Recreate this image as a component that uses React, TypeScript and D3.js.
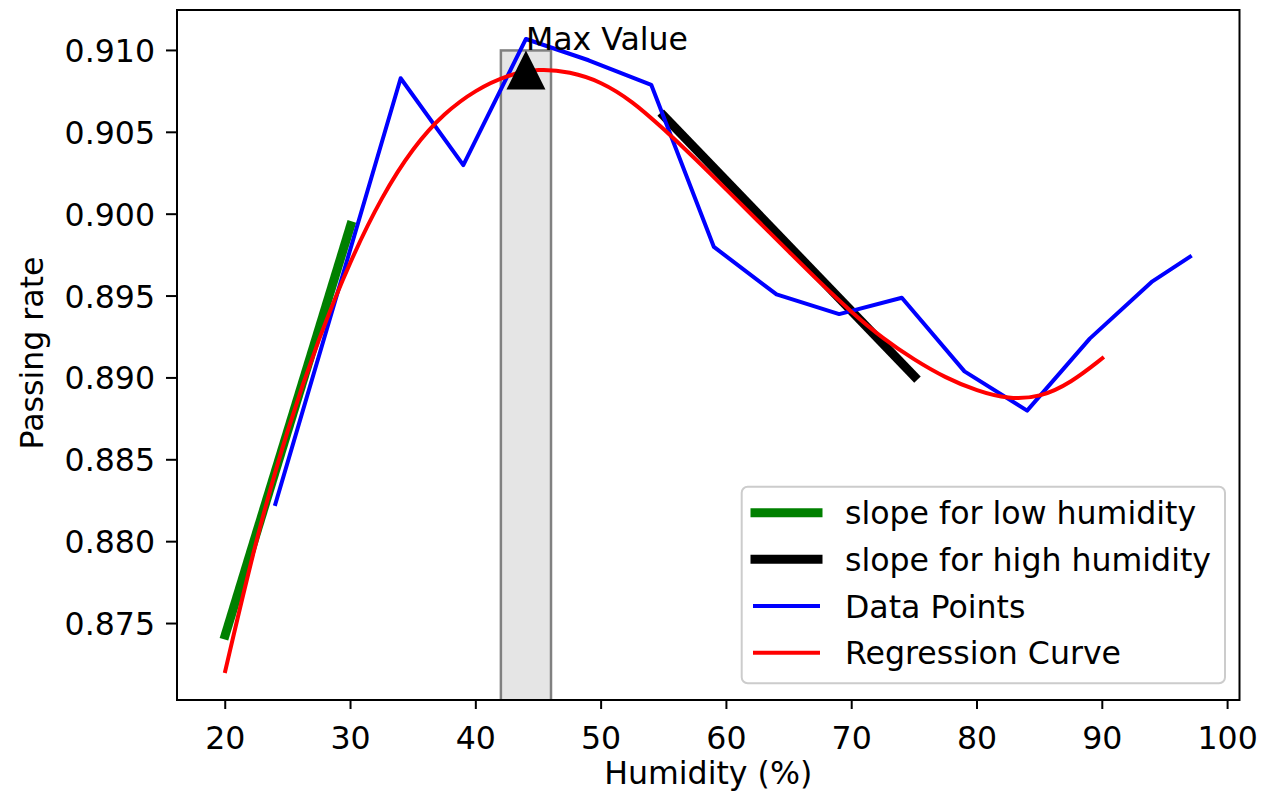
import React from "react";
import * as d3 from "d3";

// ---- data ----
const humidity = [24, 34, 39, 44, 49, 54, 59, 64, 69, 74, 79, 84, 89, 94, 97];
const passingRate = [0.8823, 0.9083, 0.903, 0.9107, 0.9094, 0.9079, 0.898, 0.8951, 0.8939, 0.8949, 0.8904, 0.888, 0.8924, 0.8959, 0.8974];

const regX = [20, 22.5, 25, 27.5, 30, 32.5, 35, 37.5, 40, 42.5, 45, 47.5, 50, 52.5, 55, 57.5, 60, 62.5, 65, 67.5, 70, 72.5, 75, 77.5, 80, 82.5, 85, 87.5, 90];
const regY = [0.8721, 0.8803, 0.887, 0.8925, 0.8972, 0.9011, 0.9041, 0.9062, 0.9076, 0.9085, 0.9089, 0.9087, 0.9081, 0.9069, 0.9052, 0.9034, 0.9015, 0.8996, 0.8977, 0.8958, 0.894, 0.8924, 0.8911, 0.89, 0.8892, 0.8887, 0.8888, 0.8897, 0.8912];

const lowX = [20, 30];
const lowY = [0.8743, 0.8993];
const highX = [55, 75];
const highY = [0.906, 0.8901];

const maxX = 44;
const maxY = 0.9088;
const barX = [42, 46];
const barTop = 0.91;

const xTicks = [20, 30, 40, 50, 60, 70, 80, 90, 100];
const yTicks = [0.875, 0.88, 0.885, 0.89, 0.895, 0.9, 0.905, 0.91];

const legendItems = [
  { label: "slope for low humidity", color: "#008000", width: 9 },
  { label: "slope for high humidity", color: "#000000", width: 9 },
  { label: "Data Points", color: "#0000ff", width: 4 },
  { label: "Regression Curve", color: "#ff0000", width: 4 },
];

const W = 1276;
const H = 797;
const L = 177, R = 1239.5, T = 10, B = 700;
const FS = 31.6;
const FONT = "DejaVu Sans";

export default function App() {
  const x = d3.scaleLinear().domain([16.15, 100.95]).range([L, R]);
  const y = d3.scaleLinear().domain([0.87033, 0.91247]).range([B, T]);

  const line = d3.line<[number, number]>().x((d) => x(d[0])).y((d) => y(d[1]));
  const smooth = d3
    .line<[number, number]>()
    .x((d) => x(d[0]))
    .y((d) => y(d[1]))
    .curve(d3.curveBasis);

  const dataPts: [number, number][] = humidity.map((h, i) => [h, passingRate[i]]);
  const regPts: [number, number][] = regX.map((h, i) => [h, regY[i]]);
  const lowPts: [number, number][] = lowX.map((h, i) => [h, lowY[i]]);
  const highPts: [number, number][] = highX.map((h, i) => [h, highY[i]]);

  const mx = x(maxX), my = y(maxY);
  const tri = 19.5;

  const legX = 741.7, legY = 486.7, legW = 483.3, legH = 196.6;
  const rowY = [512.7, 559.3, 606, 652.7];

  return (
    <svg width={W} height={H} style={{ position: "absolute", left: 0, top: 0, background: "#fff" }} fontFamily={FONT}>
      <rect x={0} y={0} width={W} height={H} fill="#fff" />
      <defs>
        <clipPath id="plotclip">
          <rect x={L} y={T} width={R - L} height={B - T} />
        </clipPath>
      </defs>
      <g clipPath="url(#plotclip)">
        <rect
          x={x(barX[0])}
          y={y(barTop)}
          width={x(barX[1]) - x(barX[0])}
          height={B + 20 - y(barTop)}
          fill="#e5e5e5"
          stroke="#808080"
          strokeWidth={2.5}
        />
        <path d={line(lowPts) || ""} fill="none" stroke="#008000" strokeWidth={9} strokeLinecap="square" />
        <path d={line(highPts) || ""} fill="none" stroke="#000" strokeWidth={9} strokeLinecap="square" />
        <path d={line(dataPts) || ""} fill="none" stroke="#0000ff" strokeWidth={4} strokeLinecap="square" strokeLinejoin="round" />
        <path d={smooth(regPts) || ""} fill="none" stroke="#ff0000" strokeWidth={4} strokeLinecap="square" strokeLinejoin="round" />
        <path d={`M${mx},${my - tri} L${mx - tri},${my + tri} L${mx + tri},${my + tri} Z`} fill="#000" />
      </g>
      <text x={x(maxX)} y={y(barTop) - 0.5} fontSize={FS} fill="#000">
        Max Value
      </text>

      {/* frame */}
      <rect x={L} y={T} width={R - L} height={B - T} fill="none" stroke="#000" strokeWidth={2} />

      {/* x ticks */}
      {xTicks.map((t) => (
        <g key={"x" + t}>
          <line x1={x(t)} x2={x(t)} y1={B} y2={B + 9} stroke="#000" strokeWidth={2} />
          <text x={x(t)} y={B + 48.5} fontSize={FS} textAnchor="middle" fill="#000">
            {t}
          </text>
        </g>
      ))}
      {/* y ticks */}
      {yTicks.map((t) => (
        <g key={"y" + t}>
          <line x1={L - 11} x2={L} y1={y(t)} y2={y(t)} stroke="#000" strokeWidth={2} />
          <text x={L - 22} y={y(t) + 11.5} fontSize={FS} textAnchor="end" fill="#000">
            {t.toFixed(3)}
          </text>
        </g>
      ))}

      <text x={(L + R) / 2} y={784} fontSize={FS} textAnchor="middle" fill="#000">
        Humidity (%)
      </text>
      <text transform={`translate(43,353) rotate(-90)`} fontSize={FS} textAnchor="middle" fill="#000">
        Passing rate
      </text>

      {/* legend */}
      <rect x={legX} y={legY} width={legW} height={legH} rx={6} fill="#fff" fillOpacity={0.8} stroke="#cccccc" strokeWidth={2} />
      {legendItems.map((it, i) => (
        <g key={it.label}>
          <line
            x1={755}
            x2={818}
            y1={rowY[i]}
            y2={rowY[i]}
            stroke={it.color}
            strokeWidth={it.width}
            strokeLinecap="square"
          />
          <text x={845} y={rowY[i] + 11.5} fontSize={FS} fill="#000">
            {it.label}
          </text>
        </g>
      ))}
    </svg>
  );
}
